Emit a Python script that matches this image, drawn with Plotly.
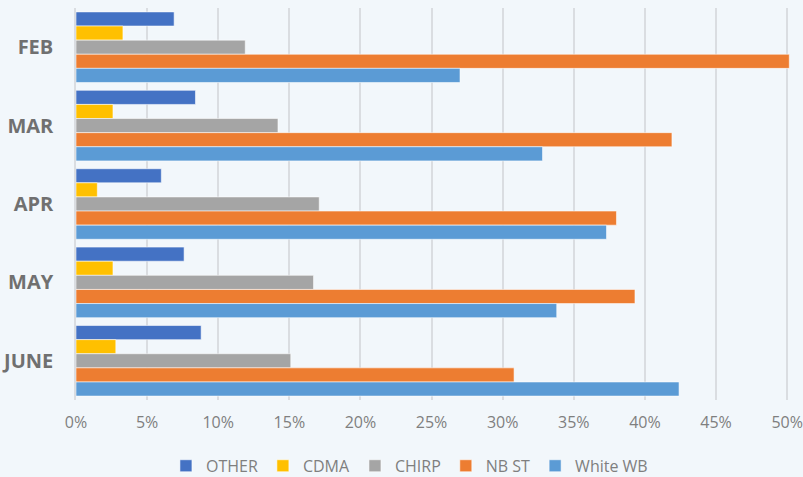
import plotly.graph_objects as go

months = ["FEB", "MAR", "APR", "MAY", "JUNE"]
series_names = ["OTHER", "CDMA", "CHIRP", "NB ST", "White WB"]
other = [0.069, 0.084, 0.060, 0.076, 0.088]
cdma = [0.033, 0.026, 0.015, 0.026, 0.028]
chirp = [0.119, 0.142, 0.171, 0.167, 0.151]
nbst = [0.5015, 0.419, 0.380, 0.393, 0.308]
whitewb = [0.270, 0.328, 0.373, 0.338, 0.424]
series_values = [other, cdma, chirp, nbst, whitewb]
colors = ["#4472C4", "#FFC000", "#A5A5A5", "#ED7D31", "#5B9BD5"]
x_ticks = [0, 0.05, 0.10, 0.15, 0.20, 0.25, 0.30, 0.35, 0.40, 0.45, 0.50]

fig = go.Figure()
for name, vals, col in zip(series_names, series_values, colors):
    fig.add_trace(go.Bar(
        y=months, x=vals, name=name, orientation="h",
        marker=dict(color=col, line=dict(color="rgba(255,255,255,0.55)", width=1)),
    ))

bg = "#F2F7FB"
fig.update_layout(
    width=803, height=477,
    paper_bgcolor=bg, plot_bgcolor=bg,
    margin=dict(l=76, r=13, t=8, b=77, autoexpand=False),
    barmode="group", bargap=0.1, bargroupgap=0,
    font=dict(family="Open Sans", color="#7F7F7F"),
    showlegend=True,
    legend=dict(orientation="h", x=0.467, xanchor="center", y=-0.168, yanchor="middle",
                font=dict(size=16, color="#7F7F7F"), itemwidth=30,
                traceorder="normal", bgcolor="rgba(0,0,0,0)"),
    xaxis=dict(range=[0, 0.502], tickvals=x_ticks, tickformat=".0%",
               showgrid=True, gridcolor="#DADDE1", gridwidth=1.5,
               zeroline=False, tickfont=dict(size=16, color="#7F7F7F"),
               ticks="", ticklabelstandoff=11, automargin=False, fixedrange=True),
    yaxis=dict(autorange="reversed", showline=True, linecolor="#DADDE1", linewidth=1.5,
               tickfont=dict(size=20, color="#707070", family="Open Sans", weight="bold"),
               ticks="", ticklabelstandoff=17, automargin=False, showgrid=False,
               fixedrange=True),
)

fig.write_html("out.html", config={"displayModeBar": False},
               post_script="document.body.style.margin='0';document.body.style.overflow='hidden';")
